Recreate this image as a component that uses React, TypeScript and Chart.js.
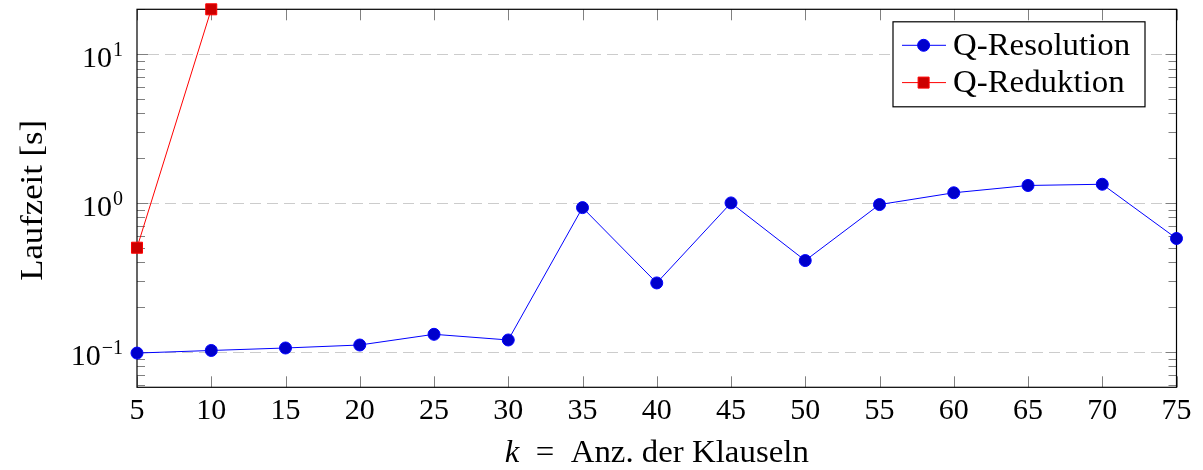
import { useEffect, useRef } from "react";
import { Chart, registerables } from "chart.js";

Chart.register(...registerables);

// Number of clauses k (x axis)
const clauseCounts = [5, 10, 15, 20, 25, 30, 35, 40, 45, 50, 55, 60, 65, 70, 75];
// Runtime in seconds for Q-Resolution
const resolutionTimes = [0.098, 0.102, 0.106, 0.111, 0.131, 0.12, 0.93, 0.29, 1.0, 0.41, 0.975, 1.17, 1.31, 1.335, 0.577];
// Q-Reduktion only finished for the two smallest instances
const reductionCounts = [5, 10];
const reductionTimes = [0.5, 20];

const seriesNames = ["Q-Resolution", "Q-Reduktion"];
const xTickValues = [5, 10, 15, 20, 25, 30, 35, 40, 45, 50, 55, 60, 65, 70, 75];
const yTickExponents = [-1, 0, 1];
const yAxisTitle = "Laufzeit [s]";
const xAxisTitleVar = "k";
const xAxisTitleRest = "Anz. der Klauseln";

const X_MIN = 5;
const X_MAX = 75;
const Y_MIN = 0.0577;
const Y_MAX = 20;

const SERIF = '"Liberation Serif", "Times New Roman", serif';
const BLUE_LINE = "#0000ff";
const BLUE_FILL = "#0000cc";
const RED_LINE = "#ff0000";
const RED_FILL = "#cc0000";

type Seg = { t: string; italic?: boolean };

// Draws a run of text segments horizontally stretched, anchored by alignment.
function drawRun(
  ctx: CanvasRenderingContext2D,
  segs: Seg[],
  x: number,
  y: number,
  size: number,
  stretch: number,
  align: "left" | "center" | "right"
) {
  ctx.save();
  ctx.textBaseline = "alphabetic";
  ctx.textAlign = "left";
  let total = 0;
  const widths: number[] = [];
  for (const s of segs) {
    ctx.font = `${s.italic ? "italic " : ""}${size}px ${SERIF}`;
    const w = ctx.measureText(s.t).width;
    widths.push(w);
    total += w;
  }
  const totalScaled = total * stretch;
  let start = x;
  if (align === "center") start = x - totalScaled / 2;
  else if (align === "right") start = x - totalScaled;
  ctx.translate(start, y);
  ctx.scale(stretch, 1);
  let cx = 0;
  segs.forEach((s, i) => {
    ctx.font = `${s.italic ? "italic " : ""}${size}px ${SERIF}`;
    ctx.fillText(s.t, cx, 0);
    cx += widths[i];
  });
  ctx.restore();
  return totalScaled;
}

const axisDecor = {
  id: "axisDecor",
  beforeDatasetsDraw(chart: any) {
    const { ctx, chartArea } = chart;
    const { left, right, top, bottom } = chartArea;
    const xs = chart.scales.x;
    const ys = chart.scales.y;
    ctx.save();

    // dashed horizontal grid at the decades
    ctx.strokeStyle = "#cccccc";
    ctx.lineWidth = 1;
    ctx.setLineDash([11, 6]);
    for (const e of yTickExponents) {
      const py = Math.round(ys.getPixelForValue(Math.pow(10, e))) + 0.5;
      ctx.beginPath();
      ctx.moveTo(left + 11, py);
      ctx.lineTo(right - 11, py);
      ctx.stroke();
    }
    ctx.setLineDash([]);

    // tick marks, pointing inwards on all four sides
    ctx.strokeStyle = "#808080";
    ctx.lineWidth = 1;
    for (const v of xTickValues) {
      const px = Math.round(xs.getPixelForValue(v)) + 0.5;
      ctx.beginPath();
      ctx.moveTo(px, bottom);
      ctx.lineTo(px, bottom - 11);
      ctx.moveTo(px, top);
      ctx.lineTo(px, top + 11);
      ctx.stroke();
    }
    for (let e = -2; e <= 1; e++) {
      for (let m = 1; m <= 9; m++) {
        const v = m * Math.pow(10, e);
        if (v < Y_MIN || v > Y_MAX) continue;
        const len = m === 1 ? 11 : 8;
        const py = Math.round(ys.getPixelForValue(v)) + 0.5;
        ctx.beginPath();
        ctx.moveTo(left, py);
        ctx.lineTo(left + len, py);
        ctx.moveTo(right, py);
        ctx.lineTo(right - len, py);
        ctx.stroke();
      }
    }

    // frame
    ctx.strokeStyle = "#000000";
    ctx.lineWidth = 1.2;
    ctx.strokeRect(left, top, right - left, bottom - top);

    // x tick labels
    ctx.fillStyle = "#000000";
    for (const v of xTickValues) {
      const px = xs.getPixelForValue(v);
      drawRun(ctx, [{ t: String(v) }], px, bottom + 32, 30, 1, "center");
    }

    // y tick labels as powers of ten
    for (const e of yTickExponents) {
      const py = ys.getPixelForValue(Math.pow(10, e));
      const sup = e < 0 ? "\u2212" + Math.abs(e) : String(e);
      const supW = drawRun(ctx, [{ t: sup }], left - 14, py + 2, 20, 1, "right");
      drawRun(ctx, [{ t: "10" }], left - 15 - supW, py + 13, 30, 1, "right");
    }

    // axis titles
    drawRun(
      ctx,
      [{ t: xAxisTitleVar, italic: true }, { t: "\u2002=\u2002" }, { t: xAxisTitleRest }],
      (left + right) / 2,
      bottom + 74.5,
      31,
      1.06,
      "center"
    );
    ctx.save();
    ctx.translate(41.5, (top + bottom) / 2 + 2);
    ctx.rotate(-Math.PI / 2);
    drawRun(ctx, [{ t: yAxisTitle }], 0, 0, 31, 1.12, "center");
    ctx.restore();

    ctx.restore();
  },
  afterDatasetsDraw(chart: any) {
    const { ctx, chartArea } = chart;
    const boxW = 252;
    const boxH = 85;
    const bx = chartArea.right - 31.5 - boxW;
    const by = chartArea.top + 12.5;
    ctx.save();
    ctx.fillStyle = "#ffffff";
    ctx.fillRect(bx, by, boxW, boxH);
    ctx.strokeStyle = "#000000";
    ctx.lineWidth = 1.2;
    ctx.strokeRect(bx, by, boxW, boxH);

    const rows = [by + 23.5, by + 60.8];
    seriesNames.forEach((name, i) => {
      const ry = rows[i];
      const line = i === 0 ? BLUE_LINE : RED_LINE;
      const fill = i === 0 ? BLUE_FILL : RED_FILL;
      ctx.strokeStyle = line;
      ctx.lineWidth = 1;
      ctx.beginPath();
      ctx.moveTo(bx + 9, ry);
      ctx.lineTo(bx + 53, ry);
      ctx.stroke();
      const mx = bx + 30.6;
      ctx.fillStyle = fill;
      ctx.beginPath();
      if (i === 0) {
        ctx.arc(mx, ry, 6, 0, Math.PI * 2);
      } else {
        ctx.rect(mx - 5.5, ry - 5.5, 11, 11);
      }
      ctx.fill();
      ctx.stroke();
      ctx.fillStyle = "#000000";
      drawRun(ctx, [{ t: name }], bx + 60, ry + 9.5, 31, 1.06, "left");
    });
    ctx.restore();
  },
};

export default function App() {
  const canvasRef = useRef<HTMLCanvasElement | null>(null);

  useEffect(() => {
    const canvas = canvasRef.current;
    if (!canvas) return;
    const chart = new Chart(canvas, {
      type: "line",
      data: {
        datasets: [
          {
            label: seriesNames[0],
            data: clauseCounts.map((k, i) => ({ x: k, y: resolutionTimes[i] })),
            borderColor: BLUE_LINE,
            borderWidth: 1,
            backgroundColor: BLUE_FILL,
            pointStyle: "circle",
            pointRadius: 6,
            pointBackgroundColor: BLUE_FILL,
            pointBorderColor: BLUE_LINE,
            pointBorderWidth: 1,
            tension: 0,
            clip: false,
          },
          {
            label: seriesNames[1],
            data: reductionCounts.map((k, i) => ({ x: k, y: reductionTimes[i] })),
            borderColor: RED_LINE,
            borderWidth: 1,
            backgroundColor: RED_FILL,
            pointStyle: "rect",
            pointRadius: 7.8,
            pointBackgroundColor: RED_FILL,
            pointBorderColor: RED_LINE,
            pointBorderWidth: 1,
            tension: 0,
            clip: false,
          },
        ],
      },
      options: {
        animation: false,
        responsive: false,
        devicePixelRatio: 1,
        events: [],
        layout: { padding: { left: 137, right: 26.5, top: 9.3, bottom: 82.7 } },
        scales: {
          x: { type: "linear", min: X_MIN, max: X_MAX, display: false },
          y: { type: "logarithmic", min: Y_MIN, max: Y_MAX, display: false },
        },
        plugins: {
          legend: { display: false },
          tooltip: { enabled: false },
        },
      },
      plugins: [axisDecor],
    });
    return () => chart.destroy();
  }, []);

  return (
    <div style={{ position: "absolute", left: 0, top: 0, width: 1203, height: 470, background: "#ffffff" }}>
      <canvas ref={canvasRef} width={1203} height={470} />
    </div>
  );
}
